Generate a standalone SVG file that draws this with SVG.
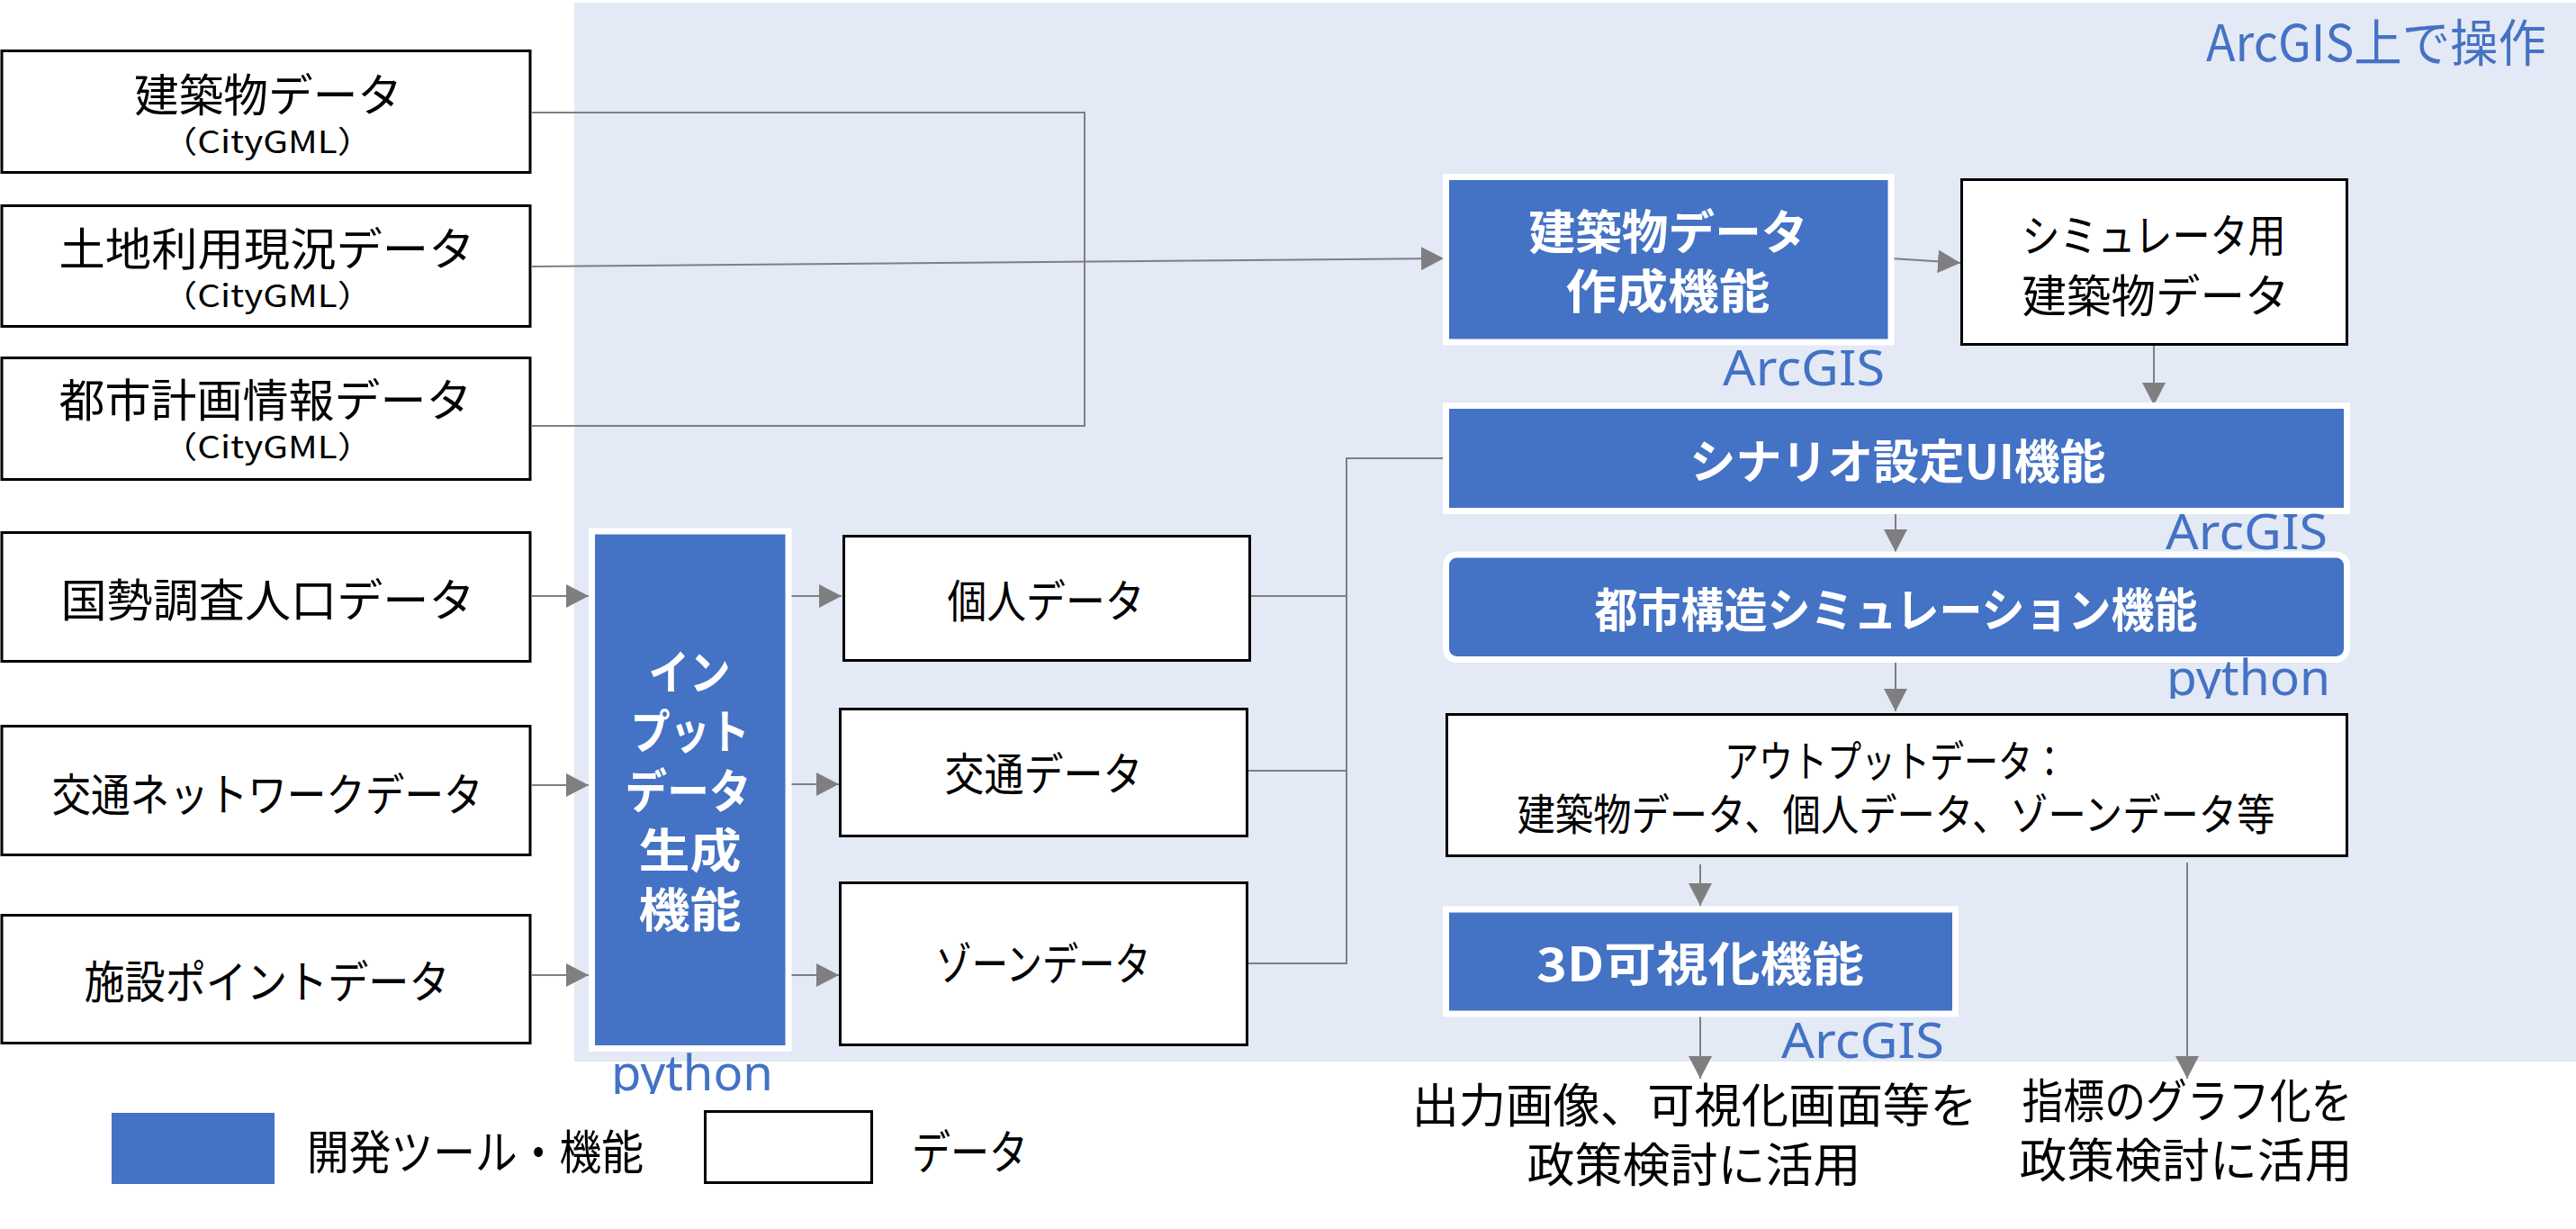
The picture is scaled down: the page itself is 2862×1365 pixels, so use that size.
<svg xmlns="http://www.w3.org/2000/svg" width="2862" height="1365" viewBox="0 0 2862 1365">
<style>
.bx{fill:#fff;stroke:#000;stroke-width:3}
.fn{fill:#4472C4;stroke:#fff;stroke-width:7}
.t{font-family:"Noto Sans CJK JP","Noto Sans",sans-serif;fill:#000;text-anchor:middle}
.tw{font-family:"Noto Sans CJK JP","Noto Sans",sans-serif;font-weight:700;fill:#fff;text-anchor:middle}
.lb{font-family:"Noto Sans","Noto Sans CJK JP",sans-serif;fill:#4472C4;font-size:55px}
.cn{fill:none;stroke:#7F7F7F;stroke-width:2}
</style>
<defs>
<marker id="ah" markerUnits="userSpaceOnUse" viewBox="0 0 26 26" markerWidth="26" markerHeight="26" refX="25" refY="13" orient="auto"><path d="M0,0 L25,13 L0,26 Z" fill="#7F7F7F"/></marker>
<clipPath id="clipPy1"><rect x="600" y="1100" width="300" height="115"/></clipPath>
<clipPath id="clipPy2"><rect x="2380" y="700" width="260" height="76"/></clipPath>
</defs>

<rect id="panel" x="638" y="3" width="2224" height="1176" fill="#E3E9F5"/>
<text class="lb" x="2451" y="68" style="font-family:'Noto Sans CJK JP',sans-serif;font-size:56px" textLength="378" lengthAdjust="spacingAndGlyphs">ArcGIS上で操作</text>

<g id="connectors">
<path class="cn" d="M591,125 H1205 V473 H591"/>
<path class="cn" d="M591,296 L1604,287" marker-end="url(#ah)"/>
<path class="cn" d="M591,662 H654" marker-end="url(#ah)"/>
<path class="cn" d="M591,872 H654" marker-end="url(#ah)"/>
<path class="cn" d="M591,1083 H654" marker-end="url(#ah)"/>
<path class="cn" d="M876,662 H935" marker-end="url(#ah)"/>
<path class="cn" d="M876,871 H932" marker-end="url(#ah)"/>
<path class="cn" d="M876,1083 H932" marker-end="url(#ah)"/>
<path class="cn" d="M1390,662 H1496 M1387,856 H1496 M1387,1070 H1496 V509 H1603"/>
<path class="cn" d="M2101,287 L2178,292" marker-end="url(#ah)"/>
<path class="cn" d="M2393,384 V450" marker-end="url(#ah)"/>
<path class="cn" d="M2106,567 V613" marker-end="url(#ah)"/>
<path class="cn" d="M2106,736 V790" marker-end="url(#ah)"/>
<path class="cn" d="M1889,960 V1006" marker-end="url(#ah)"/>
<path class="cn" d="M1889,1126 V1198" marker-end="url(#ah)"/>
<path class="cn" d="M2430,958 V1198" marker-end="url(#ah)"/>
</g>

<g id="n-building">
<rect class="bx" x="2" y="56.5" width="587" height="135"/>
<text class="t"><tspan x="298" y="124" font-size="50" textLength="298" lengthAdjust="spacingAndGlyphs">建築物データ</tspan><tspan x="297" y="170" font-size="34" textLength="236" lengthAdjust="spacingAndGlyphs">（CityGML）</tspan></text>
</g>
<g id="n-landuse">
<rect class="bx" x="2" y="228.5" width="587" height="134"/>
<text class="t"><tspan x="296.5" y="295" font-size="50" textLength="462" lengthAdjust="spacingAndGlyphs">土地利用現況データ</tspan><tspan x="297" y="341" font-size="34" textLength="236" lengthAdjust="spacingAndGlyphs">（CityGML）</tspan></text>
</g>
<g id="n-plan">
<rect class="bx" x="2" y="397.5" width="587" height="135"/>
<text class="t"><tspan x="295" y="463" font-size="50" textLength="459" lengthAdjust="spacingAndGlyphs">都市計画情報データ</tspan><tspan x="297" y="509" font-size="34" textLength="236" lengthAdjust="spacingAndGlyphs">（CityGML）</tspan></text>
</g>
<g id="n-census">
<rect class="bx" x="2" y="591.5" width="587" height="143"/>
<text class="t" x="297.5" y="685" font-size="50" textLength="460" lengthAdjust="spacingAndGlyphs">国勢調査人口データ</text>
</g>
<g id="n-network">
<rect class="bx" x="2" y="806.5" width="587" height="143"/>
<text class="t" x="297" y="901" font-size="50" textLength="479" lengthAdjust="spacingAndGlyphs">交通ネットワークデータ</text>
</g>
<g id="n-facility">
<rect class="bx" x="2" y="1016.5" width="587" height="142"/>
<text class="t" x="296.5" y="1109" font-size="50" textLength="406" lengthAdjust="spacingAndGlyphs">施設ポイントデータ</text>
</g>

<g id="n-input">
<rect class="fn" x="657.5" y="590" width="218.5" height="574.5"/>
<text class="tw" font-size="52"><tspan x="766" y="766" textLength="91" lengthAdjust="spacingAndGlyphs">イン</tspan><tspan x="766.5" y="832" textLength="132" lengthAdjust="spacingAndGlyphs">プット</tspan><tspan x="764.5" y="898" textLength="140" lengthAdjust="spacingAndGlyphs">データ</tspan><tspan x="766.5" y="964" textLength="114" lengthAdjust="spacingAndGlyphs">生成</tspan><tspan x="766.5" y="1030" textLength="114" lengthAdjust="spacingAndGlyphs">機能</tspan></text>
<text class="lb" x="679" y="1211" clip-path="url(#clipPy1)" textLength="180" lengthAdjust="spacingAndGlyphs">python</text>
</g>

<g id="n-person">
<rect class="bx" x="937.5" y="595.5" width="451" height="138"/>
<text class="t" x="1162" y="686" font-size="50" textLength="219" lengthAdjust="spacingAndGlyphs">個人データ</text>
</g>
<g id="n-traffic">
<rect class="bx" x="933.5" y="787.5" width="452" height="141"/>
<text class="t" x="1159.5" y="878" font-size="50" textLength="220" lengthAdjust="spacingAndGlyphs">交通データ</text>
</g>
<g id="n-zone">
<rect class="bx" x="933.5" y="980.5" width="452" height="180"/>
<text class="t" x="1159" y="1089" font-size="50" textLength="239" lengthAdjust="spacingAndGlyphs">ゾーンデータ</text>
</g>

<g id="n-bldgen">
<rect class="fn" x="1606.5" y="196.5" width="494.5" height="183.5"/>
<text class="tw" font-size="52"><tspan x="1853.5" y="277" textLength="310" lengthAdjust="spacingAndGlyphs">建築物データ</tspan><tspan x="1853" y="343" textLength="227" lengthAdjust="spacingAndGlyphs">作成機能</tspan></text>
<text class="lb" x="1914" y="428" textLength="180" lengthAdjust="spacingAndGlyphs">ArcGIS</text>
</g>
<g id="n-simbldg">
<rect class="bx" x="2179.5" y="199.5" width="428" height="183"/>
<text class="t" font-size="50"><tspan x="2393" y="280" textLength="293" lengthAdjust="spacingAndGlyphs">シミュレータ用</tspan><tspan x="2395" y="347" textLength="297" lengthAdjust="spacingAndGlyphs">建築物データ</tspan></text>
</g>
<g id="n-scenario">
<rect class="fn" x="1606.5" y="450.5" width="1001" height="117"/>
<text class="tw" x="2108.5" y="532" font-size="52" textLength="462" lengthAdjust="spacingAndGlyphs">シナリオ設定UI機能</text>
<text class="lb" x="2406" y="610" textLength="180" lengthAdjust="spacingAndGlyphs">ArcGIS</text>
</g>
<g id="n-sim">
<rect class="fn" x="1606.5" y="616" width="1001" height="116.5" rx="12"/>
<text class="tw" x="2106.5" y="697" font-size="52" textLength="670" lengthAdjust="spacingAndGlyphs">都市構造シミュレーション機能</text>
<text class="lb" x="2407" y="772" clip-path="url(#clipPy2)" textLength="182" lengthAdjust="spacingAndGlyphs">python</text>
</g>
<g id="n-output">
<rect class="bx" x="1607.5" y="793.5" width="1000" height="157"/>
<text class="t" font-size="48"><tspan x="2106" y="863" textLength="380" lengthAdjust="spacingAndGlyphs">アウトプットデータ：</tspan><tspan x="2106.5" y="922" textLength="842" lengthAdjust="spacingAndGlyphs">建築物データ、個人データ、ゾーンデータ等</tspan></text>
</g>
<g id="n-viz">
<rect class="fn" x="1606.5" y="1010" width="566" height="116"/>
<text class="tw" x="1889" y="1090" font-size="52" textLength="364" lengthAdjust="spacingAndGlyphs">3D可視化機能</text>
<text class="lb" x="1979" y="1175" textLength="181" lengthAdjust="spacingAndGlyphs">ArcGIS</text>
</g>

<g id="n-use1">
<text class="t" font-size="52"><tspan x="1882.5" y="1247" textLength="628" lengthAdjust="spacingAndGlyphs">出力画像、可視化画面等を</tspan><tspan x="1882" y="1313" textLength="371" lengthAdjust="spacingAndGlyphs">政策検討に活用</tspan></text>
</g>
<g id="n-use2">
<text class="t" font-size="52"><tspan x="2430" y="1242" textLength="367" lengthAdjust="spacingAndGlyphs">指標のグラフ化を</tspan><tspan x="2428.5" y="1308" textLength="370" lengthAdjust="spacingAndGlyphs">政策検討に活用</tspan></text>
</g>

<g id="legend">
<rect x="124" y="1236" width="181" height="79" fill="#4472C4"/>
<text class="t" x="341" y="1299" font-size="52" style="text-anchor:start" textLength="374" lengthAdjust="spacingAndGlyphs">開発ツール・機能</text>
<rect class="bx" x="783.5" y="1234.5" width="185" height="79"/>
<text class="t" x="1013" y="1299" font-size="52" style="text-anchor:start" textLength="129" lengthAdjust="spacingAndGlyphs">データ</text>
</g>
</svg>
